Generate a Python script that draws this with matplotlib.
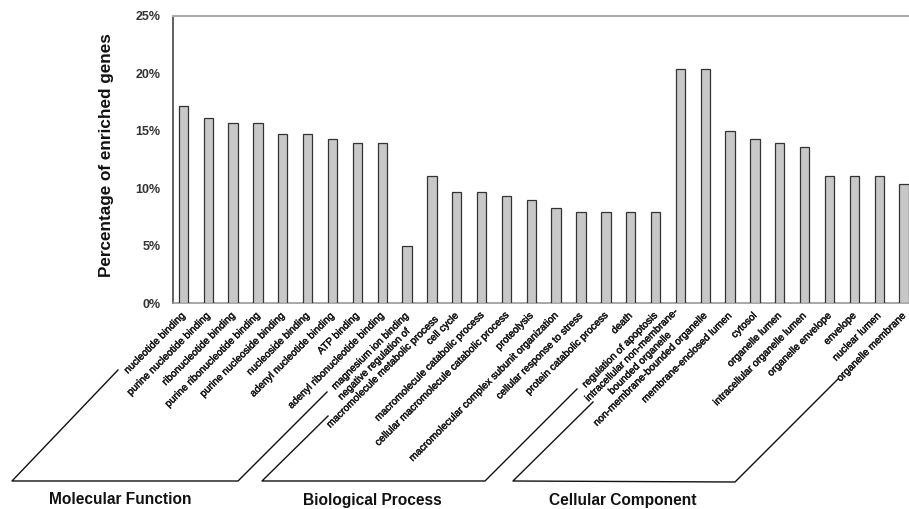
import matplotlib

matplotlib.use("Agg")
import matplotlib.pyplot as plt
import matplotlib.patheffects as pe
import matplotlib.ticker as ticker
from matplotlib.lines import Line2D
import numpy as np

plt.rcParams["font.family"] = ["Liberation Sans", "DejaVu Sans"]

# categories (GO terms), grouped by ontology
mf_terms = [
    "nucleotide binding",
    "purine nucleotide binding",
    "ribonucleotide binding",
    "purine ribonucleotide binding",
    "purine nucleoside binding",
    "nucleoside binding",
    "adenyl nucleotide binding",
    "ATP binding",
    "adenyl ribonucleotide binding",
    "magnesium ion binding",
]
bp_terms = [
    "negative regulation of\nmacromolecule metabolic process",
    "cell cycle",
    "macromolecule catabolic process",
    "cellular macromolecule catabolic process",
    "proteolysis",
    "macromolecular complex subunit organization",
    "cellular response to stress",
    "protein catabolic process",
    "death",
    "regulation of apoptosis",
]
cc_terms = [
    "intracellular non-membrane-\nbounded organelle",
    "non-membrane-bounded organelle",
    "membrane-enclosed lumen",
    "cytosol",
    "organelle lumen",
    "intracellular organelle lumen",
    "organelle envelope",
    "envelope",
    "nuclear lumen",
    "organelle membrane",
]

# percentage of enriched genes
mf_values = [17.2, 16.1, 15.7, 15.7, 14.7, 14.7, 14.3, 13.9, 13.9, 5.0]
bp_values = [11.1, 9.7, 9.7, 9.3, 9.0, 8.3, 7.9, 7.9, 7.9, 7.9]
cc_values = [20.4, 20.4, 15.0, 14.3, 13.9, 13.6, 11.1, 11.1, 11.1, 10.4]

group_names = ["Molecular Function", "Biological Process", "Cellular Component"]
y_ticks = [0, 5, 10, 15, 20, 25]

terms = mf_terms + bp_terms + cc_terms
values = mf_values + bp_values + cc_values
x = np.arange(len(terms))

W, H = 909, 509
fig = plt.figure(figsize=(W / 100, H / 100), dpi=100)
ax = fig.add_axes([173 / W, 1 - 303 / H, (W - 173) / W, (303 - 16) / H])

ax.bar(x, values, width=0.375, color="#c8c8c8", edgecolor="#333333", linewidth=0.9, zorder=3)

ax.set_xlim(-0.42, len(terms) - 1 + 0.2)
ax.set_ylim(0, 25)
ax.set_yticks(y_ticks)
ax.yaxis.set_major_formatter(ticker.FuncFormatter(lambda v, p: f"{v:.0f}%"))
ax.tick_params(axis="y", length=0, pad=9, labelsize=9, labelcolor="#333333")
for lab in ax.get_yticklabels():
    lab.set_fontweight("bold")

ax.set_xticks(x)
ax.set_xticklabels(terms, fontsize=7.3, color="#1a1a1a")
ax.tick_params(axis="x", length=0, pad=8)
plt.setp(ax.get_xticklabels(), rotation=45, ha="right", va="center",
         rotation_mode="anchor", multialignment="center",
         path_effects=[pe.withStroke(linewidth=0.35, foreground="#1a1a1a")])

ax.spines["right"].set_visible(False)
ax.spines["left"].set_color("#555555")
ax.spines["left"].set_linewidth(1.3)
ax.spines["top"].set_color("#aaaaaa")
ax.spines["top"].set_linewidth(1.5)
ax.spines["bottom"].set_color("#999999")
ax.spines["bottom"].set_linewidth(1.2)

fig.text(107 / W, 1 - 155 / H, "Percentage of enriched genes", rotation=90,
         ha="center", va="center", fontsize=12.3, fontweight="bold", color="#111111")

# group brackets (pixel layout, y from the top of the image)
brackets = [
    [(118, 370), (12, 481), (238, 481), (327, 392)],
    [(328, 416), (262, 481), (485, 481), (577, 389)],
    [(593, 402), (513, 481), (735, 482), (838, 379)],
]
title_x = [120, 372, 623]
for pts, name, tx in zip(brackets, group_names, title_x):
    xs = [p[0] / W for p in pts]
    ys = [1 - p[1] / H for p in pts]
    fig.add_artist(Line2D(xs, ys, color="#111111", linewidth=1.0, transform=fig.transFigure))
    fig.text(tx / W, 1 - 500 / H, name, ha="center", va="center",
             fontsize=11.2, fontweight="bold", color="#111111")

fig.savefig("out.png", dpi=100)
